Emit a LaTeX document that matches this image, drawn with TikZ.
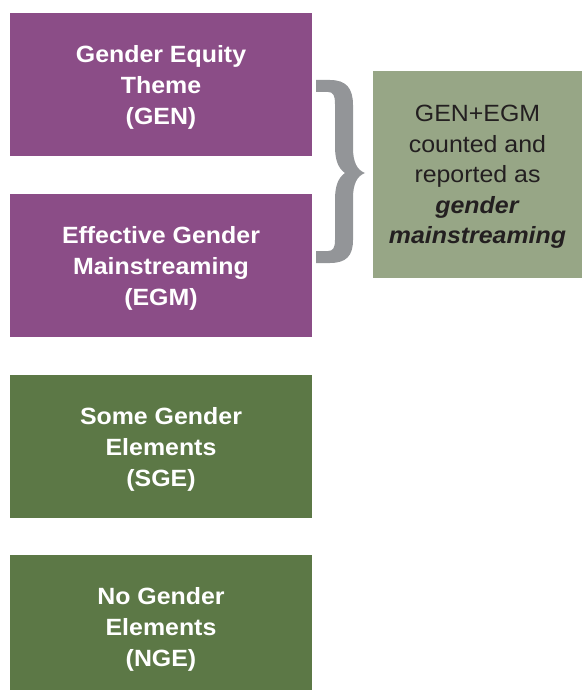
\documentclass[tikz,border=0pt]{standalone}
\usepackage{fontspec}
\setmainfont{Liberation Sans}[FakeStretch=1.06]
\definecolor{plum}{HTML}{8B4D87}
\definecolor{moss}{HTML}{5C7846}
\definecolor{sage}{HTML}{97A686}
\definecolor{bracegray}{HTML}{939598}
\definecolor{ink}{HTML}{231F20}

\begin{document}
\begin{tikzpicture}[x=1pt, y=-1pt,
        markerbox/.style={minimum width=302pt, minimum height=143pt, inner sep=0pt,
            text depth=0pt, align=center, text=white,
            font=\bfseries\fontsize{23.5}{31}\selectfont},
        sumbox/.style={fill=sage, minimum width=209pt, minimum height=207pt, inner sep=0pt,
            text depth=0pt, align=center, text=ink,
            font=\fontsize{23.5}{30.5}\selectfont}]
    \useasboundingbox (0,0) rectangle (582,690);
    % the four markers, top to bottom
    \node[markerbox, fill=plum] (gen) at (161,84.5) {Gender Equity\\Theme\\(GEN)};
    \node[markerbox, fill=plum] (egm) at (161,265.5) {Effective Gender\\Mainstreaming\\(EGM)};
    \node[markerbox, fill=moss] (sge) at (161,446.5) {Some Gender\\Elements\\(SGE)};
    \node[markerbox, fill=moss] (nge) at (161,626.5) {No Gender\\Elements\\(NGE)};
    % what GEN and EGM add up to
    \node[sumbox] (sum) at (477.5,174.5)
        {GEN+EGM\\counted and\\reported as\\\textbf{\textit{gender}}\\\textbf{\textit{mainstreaming}}};
    % brace joining the two purple boxes
    \fill[bracegray] (316,80) -- (330,80) .. controls (346,80) and (353,88) .. (353,105)
        -- (353,148) .. controls (353,162) and (357,170) .. (365,173)
        .. controls (357,176) and (353,184) .. (353,198)
        -- (353,240) .. controls (353,256) and (346,263) .. (330,263) -- (316,263)
        -- (316,251) -- (328,251) .. controls (333,251) and (335,248) .. (335,240)
        -- (335,200) .. controls (335,186) and (338,178) .. (345,173)
        .. controls (338,168) and (335,160) .. (335,146)
        -- (335,104) .. controls (335,95) and (333,92) .. (328,92) -- (316,92) -- cycle;
\end{tikzpicture}
\end{document}
